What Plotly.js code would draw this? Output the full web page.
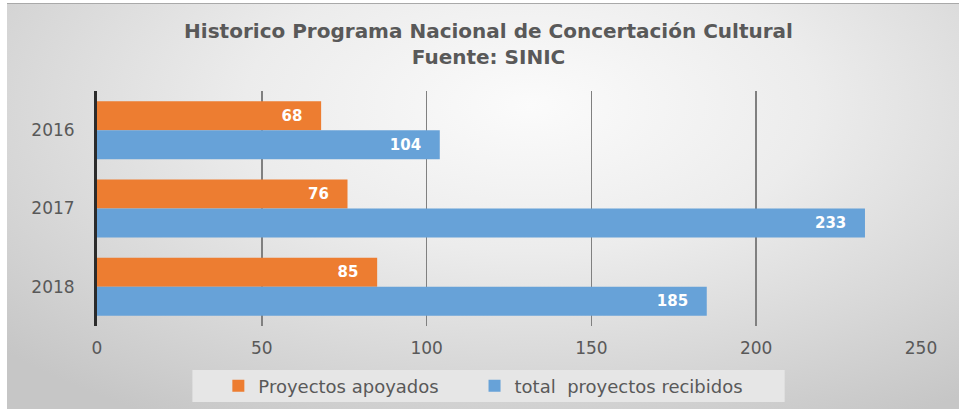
<!DOCTYPE html>
<html>
<head>
<meta charset="utf-8">
<script src="https://cdn.plot.ly/plotly-3.0.1.min.js"></script>
<style>
  html, body { margin:0; padding:0; background:#ffffff; }
  #wrap { position:relative; width:959px; height:409px; overflow:hidden; }
  #bg { position:absolute; left:7px; top:3px; width:952px; height:405px;
        border-top:1px solid #a9a9a9;
        background: radial-gradient(ellipse 75% 90% at 55% 25%, #fbfbfb 0%, #ececec 40%, #d6d6d6 75%, #c6c6c6 100%); }
  #chart { position:absolute; left:0; top:0; width:959px; height:409px; }
</style>
</head>
<body>
<div id="wrap">
  <div id="bg"></div>
  <div id="chart"></div>
</div>
<script>
const categories = ['2016', '2017', '2018'];
const apoyados = [68, 76, 85];
const recibidos = [104, 233, 185];
const seriesNames = ['Proyectos apoyados', 'total  proyectos recibidos'];
const xTicks = [0, 50, 100, 150, 200, 250];
const titleText = 'Historico Programa Nacional de Concertación Cultural<br>Fuente: SINIC';

const labelFont = {family: 'DejaVu Sans', size: 15, color: '#ffffff', weight: 'bold'};

const traces = [
  {type: 'bar', orientation: 'h', name: seriesNames[0], x: apoyados, y: categories,
   legend: 'legend',
   marker: {color: '#ed7d31'}, text: apoyados.map(v => String(v)),
   texttemplate: '%{text}\u00a0\u00a0\u00a0', textposition: 'inside', insidetextanchor: 'end',
   textfont: labelFont, hoverinfo: 'skip', cliponaxis: false},
  {type: 'bar', orientation: 'h', name: seriesNames[1], x: recibidos, y: categories,
   legend: 'legend2',
   marker: {color: '#67a2d8'}, text: recibidos.map(v => String(v)),
   texttemplate: '%{text}\u00a0\u00a0\u00a0', textposition: 'inside', insidetextanchor: 'end',
   textfont: labelFont, hoverinfo: 'skip', cliponaxis: false}
];

const plotL = 96.5, plotR = 921.5, plotT = 91, plotB = 326;
const pw = plotR - plotL, ph = plotB - plotT;
const px2x = px => (px - plotL) / pw;
const px2y = py => (plotB - py) / ph;

const legendCommon = {
  orientation: 'h', xref: 'paper', xanchor: 'left',
  y: px2y(386), yanchor: 'middle',
  bgcolor: 'rgba(0,0,0,0)', borderwidth: 0,
  font: {family: 'DejaVu Sans', size: 18, color: '#595959'}
};

const layout = {
  width: 959, height: 409,
  margin: {l: plotL, r: 959 - plotR, t: plotT, b: 409 - plotB, pad: 0, autoexpand: false},
  paper_bgcolor: 'rgba(0,0,0,0)',
  plot_bgcolor: 'rgba(0,0,0,0)',
  barmode: 'group',
  bargap: 0.26,
  bargroupgap: 0,
  font: {family: 'DejaVu Sans', color: '#595959'},
  title: {
    text: titleText,
    font: {family: 'DejaVu Sans', size: 20, color: '#595959', weight: 'bold'},
    xref: 'paper', x: px2x(488.5), xanchor: 'center',
    yref: 'container', y: 1 - 38 / 409, yanchor: 'middle'
  },
  xaxis: {
    range: [0, 250], tickvals: xTicks, ticktext: xTicks.map(String),
    showgrid: true, gridcolor: '#808080', gridwidth: 1.6,
    zeroline: false, showline: false, ticks: '',
    tickfont: {family: 'DejaVu Sans', size: 17, color: '#595959'},
    ticklabelstandoff: 10, fixedrange: true
  },
  yaxis: {
    type: 'category', autorange: 'reversed',
    showgrid: false, zeroline: false,
    showline: true, linecolor: '#2b2b2b', linewidth: 3,
    ticks: '', tickfont: {family: 'DejaVu Sans', size: 17, color: '#595959'},
    ticklabelstandoff: 16, fixedrange: true
  },
  shapes: [
    {type: 'rect', xref: 'paper', yref: 'paper', layer: 'below',
     x0: px2x(192), x1: px2x(785), y0: px2y(402), y1: px2y(370),
     fillcolor: '#e6e6e6', line: {width: 0}}
  ],
  showlegend: true,
  legend: Object.assign({}, legendCommon, {x: px2x(218)}),
  legend2: Object.assign({}, legendCommon, {x: px2x(474.5)})
};

Plotly.newPlot('chart', traces, layout, {displayModeBar: false, staticPlot: true});
</script>
</body>
</html>
